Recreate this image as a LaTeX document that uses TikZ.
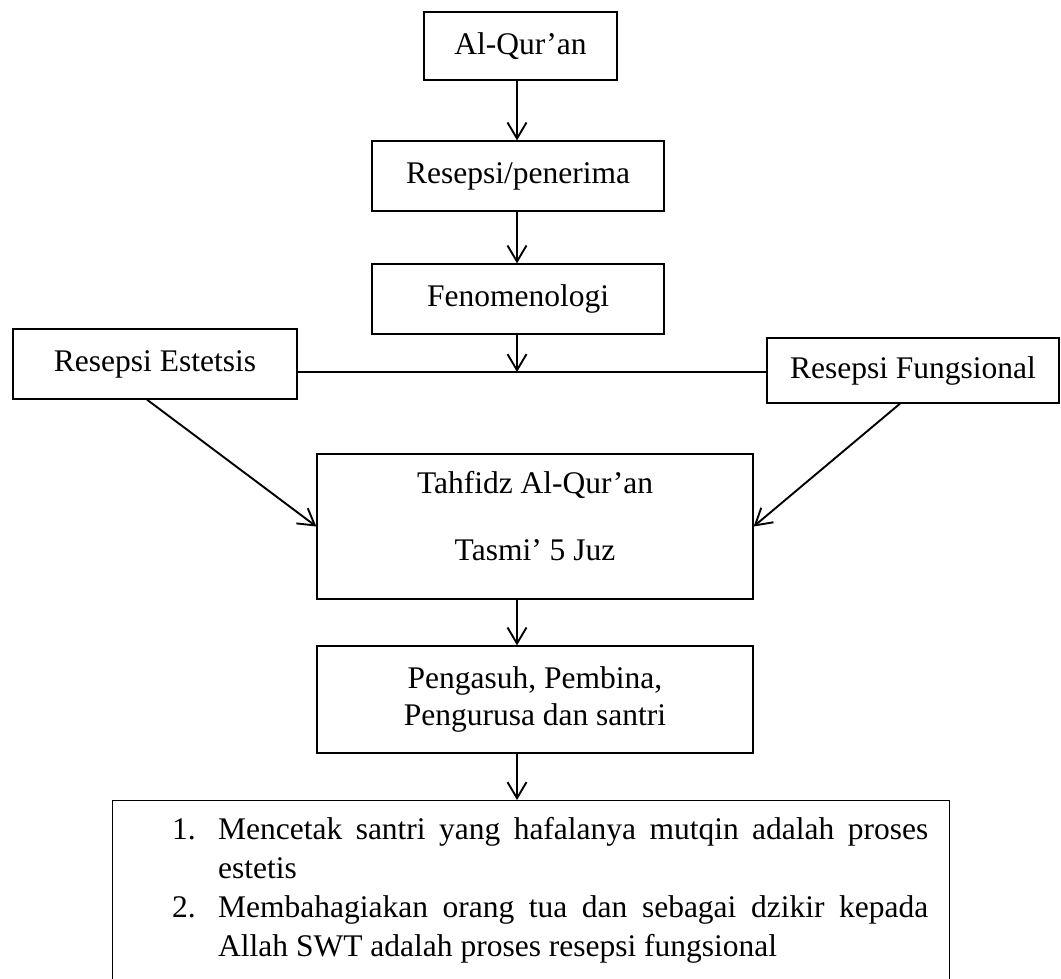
\documentclass[tikz,border=0pt]{standalone}
\usepackage{fontspec}
\setmainfont{Liberation Serif}
\usetikzlibrary{arrows.meta,calc}
\begin{document}
\begin{tikzpicture}[x=1pt,y=-1pt,
  box/.style={draw, line width=1.3pt, inner sep=0pt, align=center, font=\fontsize{31.5}{37}\selectfont},
  arr/.style={line width=1.9pt, -{Straight Barb[length=16pt,width=19pt]}},
  link/.style={line width=1.9pt}]
\clip (0,0) rectangle (1061,978);
\coordinate (spine) at (517,0);
\coordinate (join) at (517,372);
\node[box, minimum width=193pt, minimum height=68pt] (aq) at (520.5,46) {Al-Qur’an};
\node[box, minimum width=292pt, minimum height=70pt] (rp) at (518,176) {Resepsi/penerima};
\node[box, minimum width=292pt, minimum height=70pt] (fen) at (518,299) {Fenomenologi};
\node[box, minimum width=284pt, minimum height=70pt] (est) at (155,364) {Resepsi Estetsis};
\node[box, minimum width=292pt, minimum height=65pt] (fun) at (913,370.5) {Resepsi Fungsional};
\node[box, minimum width=436pt, minimum height=145pt] (tah) at (535,526.5)
  {\raisebox{7pt}[\height][\depth]{\begin{tabular}{@{}c@{}}Tahfidz Al-Qur’an\\[30pt]Tasmi’ 5 Juz\end{tabular}}};
\node[box, minimum width=436pt, minimum height=107pt] (pen) at (535,699.5) {Pengasuh, Pembina,\\Pengurusa dan santri};
\node[box, minimum width=837pt, minimum height=260pt, anchor=north west] (out) at (112,800) {};
\node[anchor=base west, inner sep=0pt, text width=756pt, align=justify,
  font=\fontsize{31.5}{39}\selectfont] (outtext) at (172,839)
  {\parindent=0pt\parskip=0pt
   \hangindent=46pt\hangafter=1\noindent\makebox[46pt][l]{1.}Mencetak santri yang hafalanya mutqin adalah proses\linebreak estetis\par
   \hangindent=46pt\hangafter=1\noindent\makebox[46pt][l]{2.}Membahagiakan orang tua dan sebagai dzikir kepada\linebreak Allah SWT adalah proses resepsi fungsional\par};
\draw[arr] (aq.south -| spine) -- (rp.north -| spine);
\draw[arr] (rp.south -| spine) -- (fen.north -| spine);
\draw[arr] (fen.south -| join) -- (join);
\draw[link] (est.east |- join) -- (fun.west |- join);
\draw[arr] ($(est.south)+(-8,0)$) -- (tah.west);
\draw[arr] ($(fun.south)+(-13,0)$) -- (tah.east);
\draw[arr] (tah.south -| spine) -- (pen.north -| spine);
\draw[arr] (pen.south -| spine) -- (out.north -| spine);
\end{tikzpicture}
\end{document}
